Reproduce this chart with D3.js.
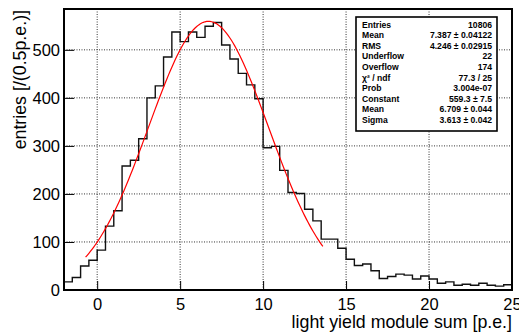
<!DOCTYPE html>
<html>
<head>
<meta charset="utf-8">
<script src="https://cdn.jsdelivr.net/npm/d3@7"></script>
<style>
  body { margin: 0; background: #fff; }
  svg { display: block; font-family: "Liberation Sans", Arial, sans-serif; }
  .grid line { stroke: #333; stroke-width: 1; stroke-dasharray: 1,1.5; }
  .stats text { font-size: 8.6px; font-weight: bold; }
</style>
</head>
<body>
<svg width="519" height="333"></svg>
<script>
// bin lower edges go from -2 to 24.5, width 0.5
const BIN_START = -2;
const BIN_WIDTH = 0.5;
const counts = [
  17, 26, 50, 62, 83, 133, 165, 258, 270, 315,
  400, 425, 485, 537, 517, 537, 526, 549, 557, 510,
  481, 451, 427, 398, 296, 299, 249, 203, 201, 168,
  144, 106, 106, 87, 64, 51, 54, 40, 24, 28,
  33, 31, 23, 29, 23, 14, 17, 10, 12, 10,
  14, 10, 8, 11
];

// gaussian fit
const fitConstant = 559.3;
const fitMean = 6.709;
const fitSigma = 3.613;
const fitRange = [-0.7, 13.6];

const xTicks = [0, 5, 10, 15, 20, 25];
const yTicks = [0, 100, 200, 300, 400, 500];

const statNames = ['Entries', 'Mean', 'RMS', 'Underflow', 'Overflow', 'χ² / ndf', 'Prob', 'Constant', 'Mean', 'Sigma'];
const statValues = ['10806', '7.387 ± 0.04122', '4.246 ± 0.02915', '22', '174', '77.3 / 25', '3.004e-07', '559.3 ± 7.5', '6.709 ± 0.044', '3.613 ± 0.042'];

const frame = { left: 64, right: 512, top: 9, bottom: 290 };

const svg = d3.select('svg');
const x = d3.scaleLinear().domain([-2, 25]).range([frame.left, frame.right]);
const y = d3.scaleLinear().domain([0, 585]).range([frame.bottom, frame.top]);

drawGrid();
drawHistogram();
drawFit();
drawAxes();
drawStats();

function drawGrid() {
  const g = svg.append('g').attr('class', 'grid');
  g.selectAll('.gx')
    .data(xTicks.filter(t => t > -2 && t < 25))
    .join('line')
      .attr('x1', d => x(d)).attr('x2', d => x(d))
      .attr('y1', frame.top).attr('y2', frame.bottom);
  g.selectAll('.gy')
    .data(yTicks.filter(t => t > 0))
    .join('line')
      .attr('x1', frame.left).attr('x2', frame.right)
      .attr('y1', d => y(d)).attr('y2', d => y(d));
}

function drawHistogram() {
  const pts = counts.map((c, i) => [BIN_START + i * BIN_WIDTH, c]);
  pts.push([BIN_START + counts.length * BIN_WIDTH, counts[counts.length - 1]]);
  const line = d3.line().curve(d3.curveStepAfter).x(p => x(p[0])).y(p => y(p[1]));
  svg.append('path')
    .attr('d', line(pts))
    .attr('fill', 'none')
    .attr('stroke', '#111')
    .attr('stroke-width', 1.4);
}

function drawFit() {
  const xs = d3.range(fitRange[0], fitRange[1] + 0.001, 0.1);
  const gaus = v => fitConstant * Math.exp(-0.5 * Math.pow((v - fitMean) / fitSigma, 2));
  const line = d3.line().x(v => x(v)).y(v => y(gaus(v)));
  svg.append('path')
    .attr('d', line(xs))
    .attr('fill', 'none')
    .attr('stroke', '#ff0000')
    .attr('stroke-width', 1.2);
}

function drawAxes() {
  // x axis: major ticks every 5, minor every 1, ticks point inward
  const xa = svg.append('g').attr('transform', `translate(0,${frame.bottom})`);
  xa.call(d3.axisBottom(x).tickValues(d3.range(-1, 26, 1)).tickSize(-5).tickFormat(''));
  xa.call(d3.axisBottom(x).tickValues(xTicks).tickSize(-9).tickFormat(d3.format('d')));
  xa.selectAll('.domain').remove();
  xa.selectAll('line').attr('stroke', '#000');
  xa.selectAll('text').attr('font-size', 16.5).attr('fill', '#000')
    .attr('font-family', '"Liberation Sans", Arial, sans-serif').attr('dy', null).attr('y', 20);

  const ya = svg.append('g').attr('transform', `translate(${frame.left},0)`);
  ya.call(d3.axisLeft(y).tickValues(d3.range(20, 585, 20)).tickSize(-5).tickFormat(''));
  ya.call(d3.axisLeft(y).tickValues(yTicks).tickSize(-10).tickFormat(d3.format('d')));
  ya.selectAll('.domain').remove();
  ya.selectAll('line').attr('stroke', '#000');
  ya.selectAll('text').attr('font-size', 16.5).attr('fill', '#000')
    .attr('font-family', '"Liberation Sans", Arial, sans-serif').attr('x', -4).attr('dy', '0.36em');

  svg.append('rect')
    .attr('x', frame.left).attr('y', frame.top)
    .attr('width', frame.right - frame.left).attr('height', frame.bottom - frame.top)
    .attr('fill', 'none').attr('stroke', '#000').attr('stroke-width', 2);

  svg.append('text')
    .attr('x', frame.right).attr('y', 328)
    .attr('text-anchor', 'end').attr('font-size', 17.8)
    .text('light yield module sum [p.e.]');

  svg.append('text')
    .attr('transform', `translate(26,${frame.top + 1}) rotate(-90)`)
    .attr('text-anchor', 'end').attr('font-size', 17.8)
    .text('entries [/(0.5p.e.)]');
}

function drawStats() {
  const box = { x: 356, y: 17, w: 141, h: 114 };
  const g = svg.append('g').attr('class', 'stats');
  g.append('rect')
    .attr('x', box.x).attr('y', box.y).attr('width', box.w).attr('height', box.h)
    .attr('fill', '#fff').attr('stroke', '#000').attr('stroke-width', 1.6);
  const rowY = d3.scaleLinear().domain([0, statNames.length - 1]).range([box.y + 7.5, box.y + box.h - 11]);
  g.selectAll('.sname')
    .data(statNames)
    .join('text')
      .attr('x', box.x + 6)
      .attr('y', (d, i) => rowY(i))
      .attr('dy', '0.35em')
      .text(d => d);
  g.selectAll('.sval')
    .data(statValues)
    .join('text')
      .attr('x', box.x + box.w - 5)
      .attr('y', (d, i) => rowY(i))
      .attr('dy', '0.35em')
      .attr('text-anchor', 'end')
      .text(d => d);
}
</script>
</body>
</html>
